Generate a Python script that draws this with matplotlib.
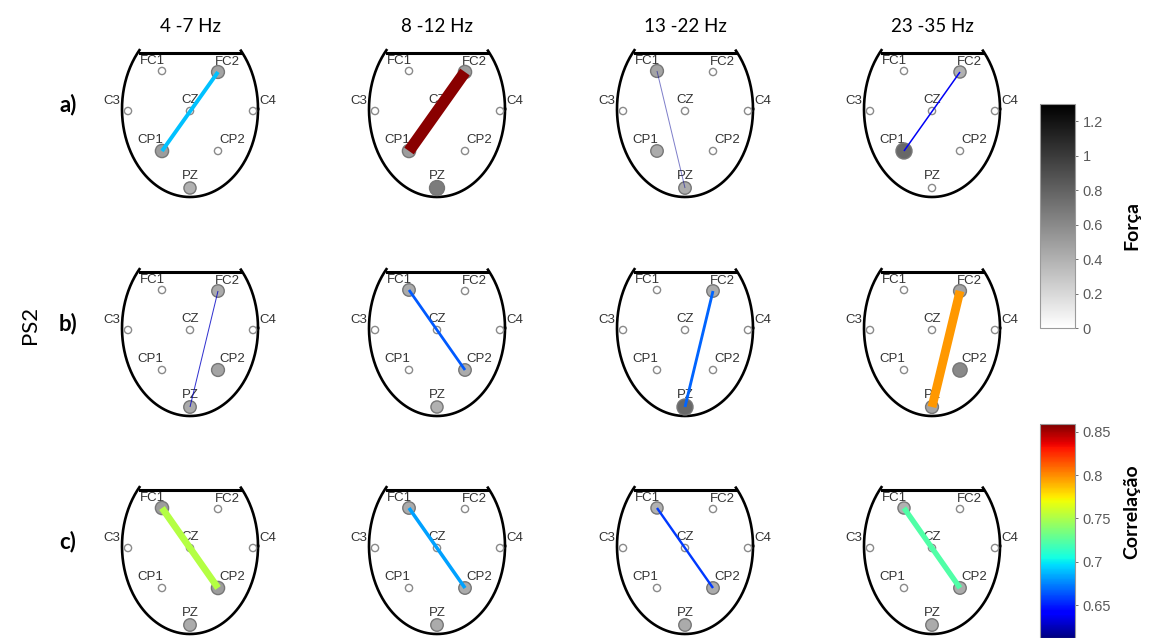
import numpy as np
import matplotlib
matplotlib.use('Agg')
import matplotlib.pyplot as plt
from matplotlib.patches import Circle
from matplotlib import cm, colors

# bandas de frequência e linhas do painel
bands = ['4 -7 Hz', '8 -12 Hz', '13 -22 Hz', '23 -35 Hz']
row_labels = ['a)', 'b)', 'c)']
channels = ['FC1', 'FC2', 'C3', 'CZ', 'C4', 'CP1', 'CP2', 'PZ']

# conexão mais forte de cada painel (linha x banda)
edge_src = [['CP1', 'CP1', 'FC1', 'CP1'],
            ['PZ', 'FC1', 'PZ', 'PZ'],
            ['FC1', 'FC1', 'FC1', 'FC1']]
edge_dst = [['FC2', 'FC2', 'PZ', 'FC2'],
            ['FC2', 'CP2', 'FC2', 'FC2'],
            ['CP2', 'CP2', 'CP2', 'CP2']]
edge_corr = [[0.690, 0.857, 0.617, 0.638],
             [0.627, 0.665, 0.667, 0.797],
             [0.752, 0.682, 0.657, 0.722]]

# força dos nós (canais sem valor ficam vazios)
node_force = [
    [{'FC2': 0.55, 'CP1': 0.60, 'PZ': 0.45},
     {'FC2': 0.60, 'CP1': 0.60, 'PZ': 0.85},
     {'FC1': 0.55, 'CP1': 0.50, 'PZ': 0.50},
     {'FC2': 0.45, 'CP1': 1.00}],
    [{'FC2': 0.50, 'CP2': 0.55, 'PZ': 0.50},
     {'FC1': 0.50, 'CP2': 0.50, 'PZ': 0.45},
     {'FC2': 0.50, 'PZ': 1.00},
     {'FC2': 0.55, 'CP2': 0.75, 'PZ': 0.55}],
    [{'FC1': 0.60, 'CP2': 0.60, 'PZ': 0.50},
     {'FC1': 0.50, 'CP2': 0.50, 'PZ': 0.50},
     {'FC1': 0.45, 'CP2': 0.50, 'PZ': 0.50},
     {'FC1': 0.45, 'CP2': 0.50, 'PZ': 0.50}],
]

force_ticks = [0, 0.2, 0.4, 0.6, 0.8, 1, 1.2]
force_max = 1.3
corr_ticks = [0.65, 0.7, 0.75, 0.8, 0.85]
corr_min, corr_max = 0.612, 0.859

# posições dos eletrodos na cabeça (unidades = pixels)
POS = {'FC1': (-28, 40), 'FC2': (28, 39), 'C3': (-62, 0), 'CZ': (0, 0),
       'C4': (63, 0), 'CP1': (-28, -40), 'CP2': (28, -40), 'PZ': (0, -77)}
LABEL_OFF = {'FC1': (-10, 10), 'FC2': (9, 10), 'C3': (-16, 10), 'CZ': (0, 11),
             'C4': (15, 10), 'CP1': (-12, 11), 'CP2': (14, 11), 'PZ': (0, 12)}

W, H = 1157, 638
COL_X = [190, 437, 685, 932]
ROW_Y = [111, 330, 548]

force_cmap = plt.get_cmap('gray_r')
force_norm = colors.Normalize(0, force_max)
corr_cmap = plt.get_cmap('jet')
corr_norm = colors.Normalize(corr_min, corr_max)


def px_axes(fig, x0, y0, w, h):
    return fig.add_axes([x0 / W, 1 - (y0 + h) / H, w / W, h / H])


def draw_head(ax):
    t = np.linspace(0, 2 * np.pi, 400)
    x = 68 * np.cos(t)
    y = 2 + 88 * np.sin(t)
    y = np.where(y > 61, np.nan, y)
    ax.plot(x, y, color='black', lw=1.9, zorder=1)
    ax.plot([-50, 50], [58, 58], color='black', lw=2.2, zorder=1)


def draw_panel(ax, r, c):
    draw_head(ax)
    for ch in channels:
        x, y = POS[ch]
        dx, dy = LABEL_OFF[ch]
        ax.text(x + dx, y + dy, ch, ha='center', va='center', fontsize=9.5,
                family='Liberation Sans', color='#333333', zorder=2)
        f = node_force[r][c].get(ch)
        if f is None:
            ax.add_patch(Circle((x, y), 3.6, facecolor='white', edgecolor='#8a8a8a',
                                lw=1.0, zorder=3))
        else:
            rad = 4.5 + 3.5 * f
            ax.add_patch(Circle((x, y), rad, facecolor=force_cmap(force_norm(f) * 0.68 + 0.07),
                                edgecolor='#777777', lw=1.0, zorder=3))
    v = edge_corr[r][c]
    (x1, y1), (x2, y2) = POS[edge_src[r][c]], POS[edge_dst[r][c]]
    width_px = max(1.0, (v - 0.605) * 46)
    if v < 0.62:
        alpha = 0.5
    elif v < 0.63:
        alpha = 0.8
    else:
        alpha = 1.0
    ax.plot([x1, x2], [y1, y2], color=corr_cmap(corr_norm(v)), lw=width_px * 0.72,
            solid_capstyle='butt', alpha=alpha, zorder=4)
    ax.set_xlim(-90, 90)
    ax.set_ylim(-90, 90)
    ax.axis('off')


fig = plt.figure(figsize=(W / 100, H / 100), dpi=100)

for r in range(3):
    for c in range(4):
        ax = px_axes(fig, COL_X[c] - 90, ROW_Y[r] - 90, 180, 180)
        draw_panel(ax, r, c)

for c, band in enumerate(bands):
    fig.text(COL_X[c] / W, 1 - 27 / H, band, ha='center', va='center',
             fontsize=13.5, family='Lato')
for r, lab in enumerate(row_labels):
    fig.text(68 / W, 1 - (ROW_Y[r] - 6) / H, lab, ha='center', va='center',
             fontsize=16, fontweight='bold', family='Lato')
fig.text(30 / W, 1 - 325 / H, 'PS2', ha='center', va='center', rotation=90,
         fontsize=16, family='Lato')

# barras de cor
cax1 = px_axes(fig, 1040, 104, 35, 224)
cb1 = fig.colorbar(cm.ScalarMappable(norm=force_norm, cmap=force_cmap), cax=cax1,
                   ticks=force_ticks)
cb1.ax.set_yticklabels([f'{t:g}' for t in force_ticks])
cax2 = px_axes(fig, 1040, 424, 35, 214)
cb2 = fig.colorbar(cm.ScalarMappable(norm=corr_norm, cmap=corr_cmap), cax=cax2,
                   ticks=corr_ticks)
cb2.ax.set_yticklabels([f'{t:g}' for t in corr_ticks])
for cb in (cb1, cb2):
    cb.outline.set_edgecolor('#9a9a9a')
    cb.outline.set_linewidth(0.8)
    cb.ax.tick_params(labelsize=10.5, colors='#5a5a5a', length=2, width=0.6)
    for t in cb.ax.get_yticklabels():
        t.set_family('Liberation Sans')

fig.text(1132 / W, 1 - 225 / H, 'Força', rotation=90, ha='center', va='center',
         fontsize=14, fontweight='bold', family='Lato')
fig.text(1132 / W, 1 - 512 / H, 'Correlação', rotation=90, ha='center', va='center',
         fontsize=14, fontweight='bold', family='Lato')

fig.savefig('out.png', dpi=100)
plt.close(fig)
